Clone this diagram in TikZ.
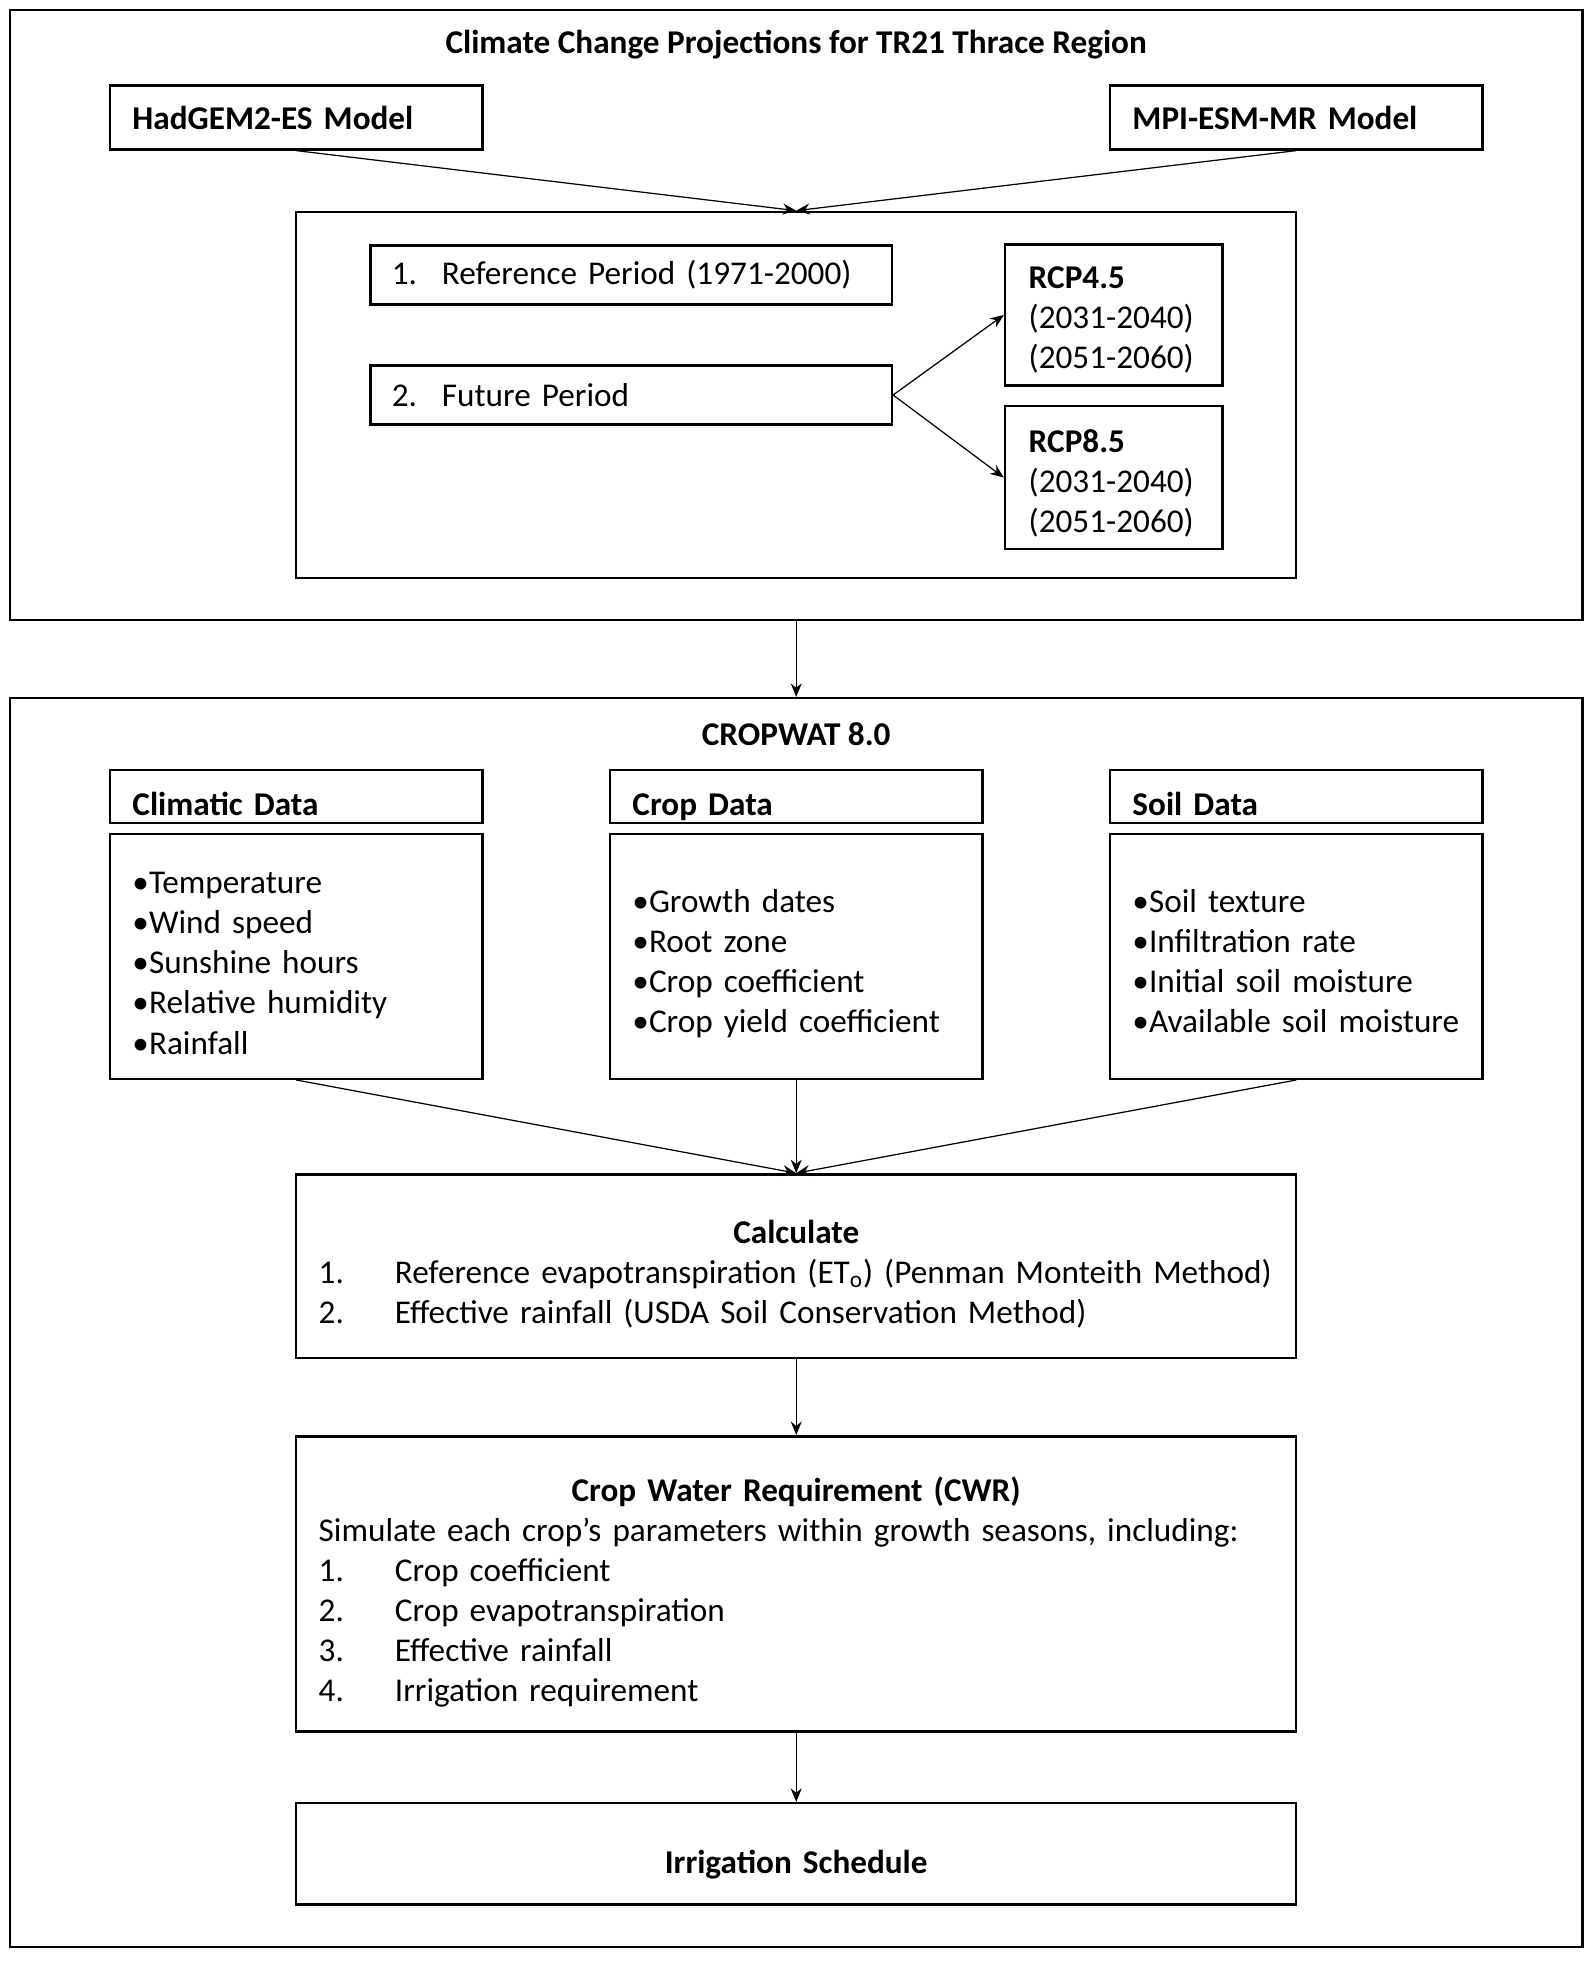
\documentclass[tikz,border=0pt]{standalone}
\usepackage{fontspec}
\setmainfont{Carlito}
\usetikzlibrary{positioning,arrows.meta}
\newcommand{\diagfont}{\fontsize{18.9pt}{22.8pt}\selectfont}

\begin{document}
\begin{tikzpicture}[auto]

    % Styles
    \tikzstyle{every node} = [font=\diagfont]
    \tikzstyle{frame} = [rectangle, minimum width=31.45cm, draw=black, line width=1.4pt]
    \tikzstyle{heading} = [font=\diagfont\bfseries]
    \tikzstyle{cell} = [rectangle, draw=black, line width=1.4pt, inner xsep=0.45cm, align=left, font=\diagfont]
    \tikzstyle{model} = [cell, minimum width=7.45cm, minimum height=1.275cm, text width=6.55cm, font=\diagfont\bfseries]
    \tikzstyle{head} = [model, minimum height=1.025cm, text height=0.8cm, text depth=0.025cm]
    \tikzstyle{items} = [cell, minimum width=7.45cm, minimum height=4.9cm, text width=6.55cm, text height=0.6cm]
    \tikzstyle{period} = [cell, minimum width=10.425cm, minimum height=1.175cm, text width=9.575cm, inner xsep=0.425cm]
    \tikzstyle{rcp} = [cell, minimum width=4.35cm, text width=3.4cm, inner xsep=0.475cm, text height=0.6cm]
    \tikzstyle{stage} = [cell, minimum width=20cm, text width=19.1cm, text height=0.6cm]
    \tikzstyle{arrow} = [line width=0.7pt, -{Stealth[length=0.27cm, width=0.22cm]}]

    \useasboundingbox (-15.925,0) rectangle (15.975,-39.3);

    % Noeuds
    \node (clim-title) [heading] at (0,-0.9) {Climate Change Projections for TR21 Thrace Region};
    \node (clim-frame) [frame, minimum height=12.2cm, below of=clim-title, yshift=-4.4cm] {};
    \node (hadgem) [model, below of=clim-title, xshift=-10cm, yshift=-0.45cm] {HadGEM2-ES Model};
    \node (mpi) [model, below of=clim-title, xshift=10cm, yshift=-0.45cm] {MPI-ESM-MR Model};
    \node (periods) [cell, minimum width=20cm, minimum height=7.325cm, below of=clim-title, yshift=-6cm] {};
    \node (ref-period) [period, below of=clim-title, xshift=-3.3cm, yshift=-3.6cm] {\makebox[1cm][l]{1.}Reference Period (1971-2000)};
    \node (fut-period) [period, below of=ref-period, yshift=-1.4cm] {\makebox[1cm][l]{2.}Future Period};
    \node (rcp45) [rcp, minimum height=2.825cm, text depth=1.675cm, right of=ref-period, xshift=8.65cm, yshift=-0.8cm] {\textbf{RCP4.5}\\(2031-2040)\\(2051-2060)};
    \node (rcp85) [rcp, minimum height=2.85cm, text depth=1.6cm, below of=rcp45, yshift=-2.25cm] {\textbf{RCP8.5}\\(2031-2040)\\(2051-2060)};

    \node (crop-title) [heading, below of=clim-frame, yshift=-7.375cm] {CROPWAT 8.0};
    \node (crop-frame) [frame, minimum height=24.975cm, below of=clim-frame, yshift=-19.15cm] {};
    \node (crop-head) [head, below of=crop-title, yshift=-0.25cm] {Crop Data};
    \node (clim-head) [head, left of=crop-head, xshift=-9cm] {Climatic Data};
    \node (soil-head) [head, right of=crop-head, xshift=9cm] {Soil Data};
    \node (clim-list) [items, text depth=3.1cm, below of=clim-head, yshift=-2.2cm] {•Temperature\\•Wind speed\\•Sunshine hours\\•Relative humidity\\•Rainfall};
    \node (crop-list) [items, text depth=2.35cm, below of=crop-head, yshift=-2.2cm] {•Growth dates\\•Root zone\\•Crop coefficient\\•Crop yield coefficient};
    \node (soil-list) [items, text depth=2.35cm, below of=soil-head, yshift=-2.2cm] {•Soil texture\\•Infiltration rate\\•Initial soil moisture\\•Available soil moisture};
    \node (calc) [stage, minimum height=3.675cm, text depth=1.525cm, below of=crop-list, yshift=-5.2cm] {\makebox[\linewidth]{\textbf{Calculate}}\\
        \makebox[1.525cm][l]{1.}Reference evapotranspiration (ET\textsubscript{o}) (Penman Monteith Method)\\
        \makebox[1.525cm][l]{2.}Effective rainfall (USDA Soil Conservation Method)};
    \node (cwr) [stage, minimum height=5.9cm, text depth=3.9cm, below of=calc, yshift=-5.35cm] {\makebox[\linewidth]{\textbf{Crop Water Requirement (CWR)}}\\
        Simulate each crop’s parameters within growth seasons, including:\\
        \makebox[1.525cm][l]{1.}Crop coefficient\\
        \makebox[1.525cm][l]{2.}Crop evapotranspiration\\
        \makebox[1.525cm][l]{3.}Effective rainfall\\
        \makebox[1.525cm][l]{4.}Irrigation requirement};
    \node (sched) [stage, minimum height=2.025cm, text height=0.8cm, text depth=0.025cm, align=center, below of=cwr, yshift=-4.4cm] {\textbf{Irrigation Schedule}};

    % Flèches
    \draw [arrow] (hadgem.south) -- (periods.north);
    \draw [arrow] (mpi.south) -- (periods.north);
    \draw [arrow] (fut-period.east) -- (rcp45.west);
    \draw [arrow] (fut-period.east) -- (rcp85.west);
    \draw [arrow] (clim-frame) -- (crop-frame);
    \draw [arrow] (clim-list.south) -- (calc.north);
    \draw [arrow] (crop-list) -- (calc);
    \draw [arrow] (soil-list.south) -- (calc.north);
    \draw [arrow] (calc) -- (cwr);
    \draw [arrow] (cwr) -- (sched);

\end{tikzpicture}
\end{document}
